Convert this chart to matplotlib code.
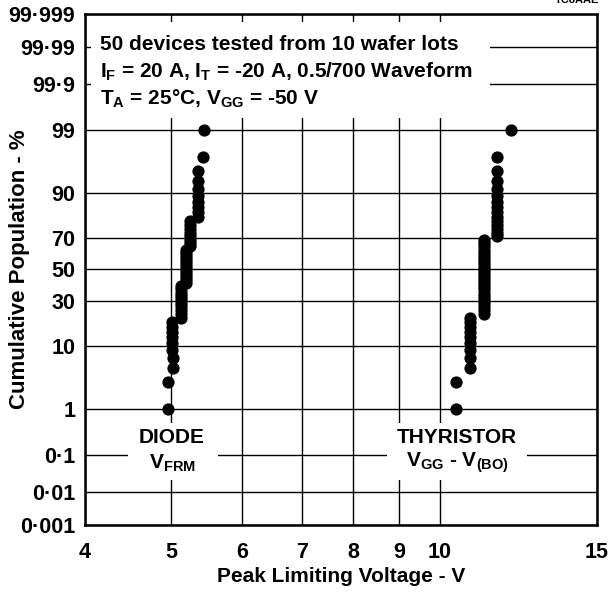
import numpy as np
import matplotlib
matplotlib.use("Agg")
import matplotlib.pyplot as plt
from matplotlib.patches import Rectangle
from statistics import NormalDist

plt.rcParams["font.family"] = ["Liberation Sans", "DejaVu Sans"]
plt.rcParams["font.weight"] = "bold"
plt.rcParams["mathtext.fontset"] = "custom"
plt.rcParams["mathtext.bf"] = "Liberation Sans:bold"
plt.rcParams["mathtext.rm"] = "Liberation Sans:bold"
plt.rcParams["mathtext.default"] = "bf"

# cumulative population (%) for the 50 devices, ranked
cum_pct = [1, 3, 5, 7, 9, 11, 13, 15, 17, 19,
           21, 23, 25, 27, 29, 31, 33, 35, 37, 39,
           41, 43, 45, 47, 49, 51, 53, 55, 57, 59,
           61, 63, 65, 67, 69, 71, 73, 75, 77, 79,
           81, 83, 85, 87, 89, 91, 93, 95, 97, 99]

# diode V_FRM (V)
diode_v = [4.95, 4.95, 5.02, 5.02, 5.01, 5.01, 5.01, 5.01, 5.01, 5.01,
           5.12, 5.12, 5.12, 5.12, 5.12, 5.12, 5.12, 5.12, 5.12, 5.12,
           5.19, 5.19, 5.19, 5.19, 5.19, 5.19, 5.19, 5.19, 5.19, 5.19,
           5.19, 5.19, 5.25, 5.25, 5.25, 5.25, 5.25, 5.25, 5.25, 5.25,
           5.35, 5.35, 5.35, 5.35, 5.35, 5.35, 5.35, 5.35, 5.43, 5.44]

# thyristor V_GG - V_(BO) (V)
thyr_v = [10.42, 10.42, 10.81, 10.81, 10.81, 10.81, 10.81, 10.81, 10.81, 10.81,
          10.81, 11.21, 11.21, 11.21, 11.21, 11.21, 11.21, 11.21, 11.21, 11.21,
          11.21, 11.21, 11.21, 11.21, 11.21, 11.21, 11.21, 11.21, 11.21, 11.21,
          11.21, 11.21, 11.21, 11.21, 11.21, 11.60, 11.60, 11.60, 11.60, 11.60,
          11.60, 11.60, 11.60, 11.60, 11.60, 11.60, 11.60, 11.60, 11.60, 12.0]

y_ticks = [0.001, 0.01, 0.1, 1, 10, 30, 50, 70, 90, 99, 99.9, 99.99, 99.999]
y_labels = ["0·001", "0·01", "0·1", "1", "10", "30", "50", "70", "90", "99",
            "99·9", "99·99", "99·999"]
x_ticks = [4, 5, 6, 7, 8, 9, 10, 15]
x_labels = ["4", "5", "6", "7", "8", "9", "10", "15"]

nd = NormalDist()
_ppf = np.vectorize(nd.inv_cdf, otypes=[float])
_cdf = np.vectorize(nd.cdf, otypes=[float])


def fwd(p):
    p = np.clip(np.asarray(p, dtype=float), 1e-7, 100 - 1e-7)
    return _ppf(p / 100.0)


def inv(z):
    return _cdf(np.asarray(z, dtype=float)) * 100.0


fs = 15
fs_tick = 15.5
fig = plt.figure(figsize=(6.08, 5.92), dpi=100)
ax = fig.add_axes([85 / 608, 67 / 592, 512 / 608, 511 / 592])

ax.set_xscale("log")
ax.set_yscale("function", functions=(fwd, inv))
ax.set_xlim(4, 15)
ax.set_ylim(0.001, 99.999)

ax.set_xticks(x_ticks)
ax.set_xticklabels(x_labels)
ax.xaxis.set_minor_locator(matplotlib.ticker.NullLocator())
ax.set_yticks(y_ticks)
ax.set_yticklabels(y_labels)
ax.yaxis.set_minor_locator(matplotlib.ticker.NullLocator())
ax.tick_params(axis="both", length=0, labelsize=fs_tick)
ax.tick_params(axis="x", pad=12)
ax.tick_params(axis="y", pad=7)

ax.set_axisbelow(True)
ax.grid(True, color="black", linewidth=1.0)
for s in ax.spines.values():
    s.set_linewidth(1.8)

ax.plot(diode_v, cum_pct, "o", color="black", markersize=7.8, clip_on=False, zorder=4)
ax.plot(thyr_v, cum_pct, "o", color="black", markersize=7.8, clip_on=False, zorder=4)

ax.set_xlabel("Peak Limiting Voltage - V", fontsize=fs, fontweight="bold")
ax.set_ylabel("Cumulative Population - %", fontsize=16, fontweight="bold")
ax.xaxis.set_label_coords(0.5, -0.083)
ax.yaxis.set_label_coords(-0.108, 0.5)

# white boxes behind the annotations
for (bx, by, bw, bh) in [(0.012, 0.796, 0.779, 0.188),
                         (0.084, 0.088, 0.176, 0.112),
                         (0.590, 0.088, 0.273, 0.112)]:
    ax.add_patch(Rectangle((bx, by), bw, bh, transform=ax.transAxes,
                           facecolor="white", edgecolor="none", zorder=1))

ax.text(0.029, 0.929, "50 devices tested from 10 wafer lots", transform=ax.transAxes,
        fontsize=fs, va="baseline", zorder=3)
ax.text(0.029, 0.875, r"$I_F$ = 20 A, $I_T$ = -20 A, 0.5/700 Waveform",
        transform=ax.transAxes, fontsize=fs, va="baseline", zorder=3)
ax.text(0.029, 0.822, r"$T_A$ = 25°C, $V_{GG}$ = -50 V", transform=ax.transAxes,
        fontsize=fs, va="baseline", zorder=3)

ax.text(0.17, 0.172, "DIODE", transform=ax.transAxes, fontsize=fs,
        ha="center", va="center", zorder=3)
ax.text(0.17, 0.121, r"$V_{FRM}$", transform=ax.transAxes, fontsize=fs,
        ha="center", va="center", zorder=3)
ax.text(0.727, 0.172, "THYRISTOR", transform=ax.transAxes, fontsize=fs,
        ha="center", va="center", zorder=3)
ax.text(0.727, 0.121, r"$V_{GG}$ - $V_{(BO)}$", transform=ax.transAxes, fontsize=fs,
        ha="center", va="center", zorder=3)

fig.text(0.985, 0.995, "TC8AAE", ha="right", va="baseline", fontsize=8)

fig.savefig("out.png", dpi=100)
